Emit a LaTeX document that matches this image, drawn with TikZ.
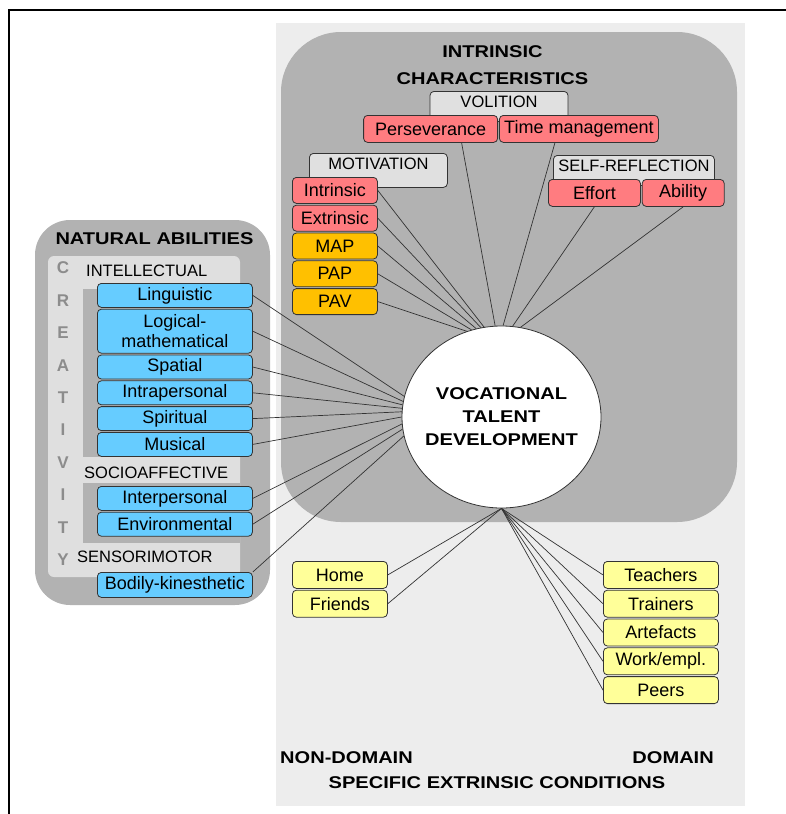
\documentclass[tikz,border=0pt]{standalone}
\usepackage{fontspec}
\setmainfont{Liberation Sans}
\usepackage{xcolor}
\usepackage{tikz}
\usetikzlibrary{
  calc,
  positioning,
  shapes
}
\definecolor{panelgray}{HTML}{B2B2B2}
\definecolor{bggray}{HTML}{EDEDED}
\definecolor{innergray}{HTML}{DFDFDF}
\definecolor{tagfill}{HTML}{E0E0E0}
\definecolor{redfill}{HTML}{FF7C80}
\definecolor{orangefill}{HTML}{FFC000}
\definecolor{bluefill}{HTML}{66CCFF}
\definecolor{yellowfill}{HTML}{FFFF99}
\definecolor{creagray}{HTML}{8C8C8C}
\newcommand{\hd}[1]{\scalebox{1.18}[1]{\bfseries #1}}
\newcommand{\hdc}[1]{\makebox[110pt]{\hd{#1}}}
\tikzset{
  cell/.style={draw=black!80,line width=0.8pt,rounded corners=4pt,inner sep=0pt,
    minimum height=26pt,align=center,font=\fontsize{18}{20}\selectfont},
  redcell/.style={cell,fill=redfill,minimum width=85pt},
  orangecell/.style={cell,fill=orangefill,minimum width=85pt},
  bluecell/.style={cell,fill=bluefill,minimum width=155pt,minimum height=24pt},
  yelcell/.style={cell,fill=yellowfill,minimum height=27pt},
  tag/.style={draw=black!80,line width=0.8pt,rounded corners=4pt,fill=tagfill,
    inner sep=0pt,text height=16pt,font=\fontsize{16.5}{18}\selectfont},
  grouptxt/.style={inner sep=0pt,font=\fontsize{16.5}{18}\selectfont},
  heading/.style={inner sep=0pt,align=center,font=\fontsize{17}{27}\selectfont},
  crea/.style={inner sep=0pt,text=creagray,font=\fontsize{17}{18}\selectfont\bfseries},
  link/.style={draw=black!80,line width=0.7pt}
}

\begin{document}
\begin{tikzpicture}[x=1pt,y=1pt]
  \useasboundingbox (0,0) rectangle (786,-814);
  \draw[line width=2pt] (786,-10) -- (9,-10) -- (9,-814);

  \fill[bggray] (276,-23) rectangle (745,-806);
  \fill[panelgray,rounded corners=60pt] (281,-32) rectangle (737,-522);
  \fill[panelgray,rounded corners=35pt] (35,-220) rectangle (270,-605);
  \fill[innergray,rounded corners=6pt] (48,-256) rectangle (240,-577);
  \fill[panelgray] (83,-289) rectangle (240,-457);
  \fill[panelgray] (83,-483) rectangle (240,-543);

  \node[heading] (intch) at (492.5,-65.5) {\hd{INTRINSIC}\\\hd{CHARACTERISTICS}};
  \node[heading] (natab) at (154.5,-239) {\hd{NATURAL ABILITIES}};
  \node[heading,anchor=west] (nondom) at (280,-758) {\hd{NON-DOMAIN}};
  \node[heading,anchor=east] (dom) at (714,-758) {\hd{DOMAIN}};
  \node[heading] (second) at (497,-783) {\hd{SPECIFIC EXTRINSIC CONDITIONS}};

  \node[tag,minimum width=138pt,text depth=14pt,anchor=north] (vol) at (499,-91) {VOLITION};
  \node[redcell,minimum width=134pt,minimum height=27pt,anchor=north east] (pers) at (498,-115) {Perseverance};
  \node[redcell,minimum width=159pt,minimum height=27pt,right=1pt of pers] (tman) {Time management};

  \node[tag,minimum width=138pt,text depth=18pt,anchor=north west] (motiv) at (309,-153) {MOTIVATION};
  \node[redcell,anchor=north west] (intr) at (292,-177) {Intrinsic};
  \node[redcell,below=1pt of intr] (extr) {Extrinsic};
  \node[orangecell,below=1pt of extr] (map) {MAP};
  \node[orangecell,below=1pt of map] (pap) {PAP};
  \node[orangecell,below=1pt of pap] (pav) {PAV};

  \node[tag,minimum width=161pt,text depth=14pt,anchor=north west] (selfr) at (553,-155) {SELF-REFLECTION};
  \node[redcell,minimum width=92pt,minimum height=27pt,anchor=north west] (eff) at (548,-179) {Effort};
  \node[redcell,minimum width=82pt,minimum height=27pt,right=1pt of eff] (abil) {Ability};

  \node[crea] (cr0) at (63,-268) {C};
  \node[crea] (cr1) at (63,-300.4) {R};
  \node[crea] (cr2) at (63,-332.8) {E};
  \node[crea] (cr3) at (63,-365.2) {A};
  \node[crea] (cr4) at (63,-397.6) {T};
  \node[crea] (cr5) at (63,-430) {I};
  \node[crea] (cr6) at (63,-462.4) {V};
  \node[crea] (cr7) at (63,-494.8) {I};
  \node[crea] (cr8) at (63,-527.2) {T};
  \node[crea] (cr9) at (63,-559.6) {Y};

  \node[grouptxt,anchor=west] (intel) at (86,-271) {INTELLECTUAL};
  \node[grouptxt,anchor=west] (socio) at (84,-473) {SOCIOAFFECTIVE};
  \node[grouptxt,anchor=west] (senso) at (77,-557) {SENSORIMOTOR};

  \node[bluecell,anchor=north west] (ling) at (97,-283) {Linguistic};
  \node[bluecell,below=1pt of ling,minimum height=44pt] (logm) {Logical-\\mathematical};
  \node[bluecell,below=1pt of logm] (spat) {Spatial};
  \node[bluecell,below=1pt of spat] (intra) {Intrapersonal};
  \node[bluecell,below=1pt of intra] (spir) {Spiritual};
  \node[bluecell,below=1pt of spir] (musi) {Musical};
  \node[bluecell,anchor=north west] (inter) at (97,-486) {Interpersonal};
  \node[bluecell,below=1pt of inter] (envi) {Environmental};
  \node[bluecell,anchor=north west,minimum height=25pt] (bodk) at (97,-572) {Bodily-kinesthetic};

  \node[yelcell,minimum width=95pt,anchor=north west] (home) at (292,-561) {Home};
  \node[yelcell,minimum width=95pt,below=1pt of home] (frnd) {Friends};
  \node[yelcell,minimum width=115pt,anchor=north west] (teach) at (603,-561) {Teachers};
  \node[yelcell,minimum width=115pt,below=1pt of teach] (train) {Trainers};
  \node[yelcell,minimum width=115pt,below=1pt of train] (artef) {Artefacts};
  \node[yelcell,minimum width=115pt,below=1pt of artef] (work) {Work/empl.};
  \node[yelcell,minimum width=115pt,below=1pt of work] (peers) {Peers};

  \node[ellipse,draw=black!80,line width=0.8pt,fill=white,minimum width=199pt,minimum height=182pt,
    inner sep=0pt,align=center,font=\fontsize{17}{23}\selectfont] (vtd) at (501.5,-417)
    {\hdc{VOCATIONAL}\\\hdc{TALENT}\\\hdc{DEVELOPMENT}};

  \draw[link] (intr.east) -- (vtd.101);
  \draw[link] (extr.east) -- (vtd.103);
  \draw[link] (map.east) -- (vtd.106);
  \draw[link] (pap.east) -- (vtd.109);
  \draw[link] (pav.east) -- (vtd.112);
  \draw[link] ($(pers.south)!.46!(pers.south east)$) -- (vtd.94);
  \draw[link] ($(tman.south)!.3!(tman.south west)$) -- (vtd.89);
  \draw[link] (eff.south) -- (vtd.83);
  \draw[link] (abil.south) -- (vtd.78);

  \draw[link] (ling.east) -- (vtd.168);
  \draw[link] (logm.east) -- (vtd.171);
  \draw[link] (spat.east) -- (vtd.173);
  \draw[link] (intra.east) -- (vtd.175);
  \draw[link] (spir.east) -- (vtd.177);
  \draw[link] (musi.east) -- (vtd.180);
  \draw[link] (inter.east) -- (vtd.184);
  \draw[link] (envi.east) -- (vtd.187);
  \draw[link] (bodk.north east) -- (vtd.191);

  \draw[link] (home.east) -- (vtd.south);
  \draw[link] (frnd.east) -- (vtd.south);
  \draw[link] (vtd.south) -- (teach.west);
  \draw[link] (vtd.south) -- (train.west);
  \draw[link] (vtd.south) -- (artef.west);
  \draw[link] (vtd.south) -- (work.west);
  \draw[link] (vtd.south) -- (peers.west);
\end{tikzpicture}
\end{document}
